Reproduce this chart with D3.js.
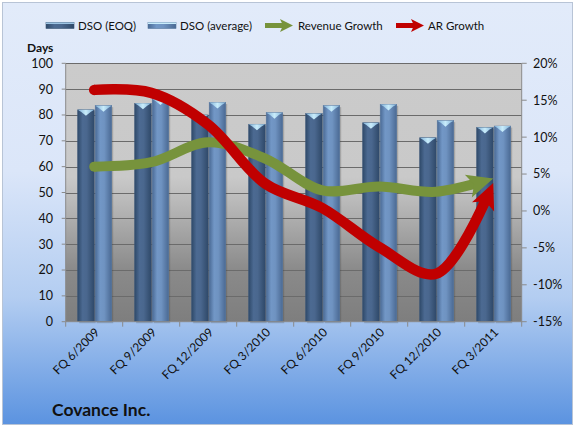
<!DOCTYPE html>
<html>
<head>
<meta charset="utf-8">
<script src="https://cdn.jsdelivr.net/npm/d3@7"></script>
<style>
  body { margin: 0; background: #fff; }
  text { font-family: Lato, "Open Sans", sans-serif; fill: #111; }
</style>
</head>
<body>
<svg id="chart" width="575" height="427"></svg>
<script>
// data
const categories = ["FQ 6/2009", "FQ 9/2009", "FQ 12/2009", "FQ 3/2010", "FQ 6/2010", "FQ 9/2010", "FQ 12/2010", "FQ 3/2011"];
const dsoEoq = [82, 84.5, 80, 76.4, 80.6, 77, 71.2, 75.2];
const dsoAvg = [83.6, 86.2, 84.8, 80.9, 83.6, 84.1, 77.8, 75.7];
const revenueGrowth = [6.0, 6.6, 9.3, 7.1, 2.8, 3.3, 2.6, 4.4];
const arGrowth = [16.4, 16.0, 11.7, 3.7, 0.4, -4.9, -8.5, 3.8];
const leftTicks = d3.range(0, 101, 10);
const rightTicks = d3.range(-15, 21, 5);

const width = 575, height = 427;
const plot = { left: 65.7, right: 521.7, top: 63.3, bottom: 321.7 };

const svg = d3.select('#chart');
const defs = svg.append('defs');

// backgrounds
const bg = defs.append('linearGradient').attr('id', 'bg').attr('x1', 0).attr('y1', 0).attr('x2', 0).attr('y2', 1);
[[0, '#e2ebfa'], [0.4, '#dbe6f9'], [0.7, '#b3cdf1'], [1, '#5b93e0']].forEach(s =>
    bg.append('stop').attr('offset', s[0]).attr('stop-color', s[1]));

const pg = defs.append('linearGradient').attr('id', 'pg').attr('x1', 0).attr('y1', 0).attr('x2', 0).attr('y2', 1);
[[0, '#cbcbcb'], [0.44, '#c9c9c9'], [0.52, '#bcbcbc'], [0.8, '#8a8a8a'], [1, '#7e7e7e']].forEach(s =>
    pg.append('stop').attr('offset', s[0]).attr('stop-color', s[1]));

function barGrad(id, stops) {
    const g = defs.append('linearGradient').attr('id', id).attr('x1', 0).attr('y1', 0).attr('x2', 1).attr('y2', 0);
    stops.forEach(s => g.append('stop').attr('offset', s[0]).attr('stop-color', s[1]));
}
barGrad('b1', [[0, '#2f4a6a'], [0.3, '#4c6a92'], [0.55, '#4a678e'], [1, '#2f4969']]);
barGrad('b2', [[0, '#4a6a95'], [0.3, '#7297c6'], [0.55, '#6f93c1'], [1, '#4a6993']]);
barGrad('cap', [[0, '#7fb0d8'], [0.5, '#c8ecfb'], [1, '#7fb0d8']]);

svg.append('rect')
    .attr('x', 2.5).attr('y', 2.5).attr('width', width - 5).attr('height', height - 5)
    .attr('fill', 'url(#bg)').attr('stroke', '#b8c4d6');

svg.append('rect')
    .attr('x', plot.left).attr('y', plot.top)
    .attr('width', plot.right - plot.left).attr('height', plot.bottom - plot.top)
    .attr('fill', 'url(#pg)');

// scales
const x0 = d3.scaleBand().domain(categories).range([plot.left, plot.right]).padding(0);
const x1 = d3.scaleBand().domain(['eoq', 'avg']).range([12, 46]).paddingInner(0.06);
const yL = d3.scaleLinear().domain([0, 100]).range([plot.bottom, plot.top]);
const yR = d3.scaleLinear().domain([-15, 20]).range([plot.bottom, plot.top]);

// gridlines
svg.append('g').selectAll('line')
    .data(leftTicks.filter(d => d > 0))
    .join('line')
    .attr('x1', plot.left).attr('x2', plot.right)
    .attr('y1', d => Math.round(yL(d)) + 0.5).attr('y2', d => Math.round(yL(d)) + 0.5)
    .attr('stroke', '#6b6b6b').attr('stroke-width', 1);

// bars
const table = categories.map((c, i) => ({ cat: c, values: [{ k: 'eoq', v: dsoEoq[i] }, { k: 'avg', v: dsoAvg[i] }] }));
const groups = svg.append('g').selectAll('g')
    .data(table)
    .join('g')
    .attr('transform', d => 'translate(' + x0(d.cat) + ',0)');

const bars = groups.selectAll('g')
    .data(d => d.values)
    .join('g');

bars.append('rect')
    .attr('x', d => x1(d.k) + 1.5)
    .attr('y', d => yL(d.v) + 1.5)
    .attr('width', x1.bandwidth())
    .attr('height', d => yL(0) - yL(d.v))
    .attr('fill', 'rgba(60,60,60,0.25)');

bars.append('rect')
    .attr('x', d => x1(d.k))
    .attr('y', d => yL(d.v))
    .attr('width', x1.bandwidth())
    .attr('height', d => yL(0) - yL(d.v))
    .attr('fill', d => d.k === 'eoq' ? 'url(#b1)' : 'url(#b2)')
    .attr('stroke', d => d.k === 'eoq' ? '#3a5576' : '#56779f')
    .attr('stroke-width', 0.6);

bars.append('path')
    .attr('d', d => {
        const xa = x1(d.k), w = x1.bandwidth(), t = yL(d.v);
        return 'M' + xa + ',' + t + 'h' + w + 'l-' + (w * 0.22) + ',2.2' +
            'L' + (xa + w / 2) + ',' + (t + 6) + 'L' + (xa + w * 0.22) + ',' + (t + 2.2) + 'Z';
    })
    .attr('fill', 'url(#cap)');

// axes
svg.append('line')
    .attr('x1', plot.left).attr('x2', plot.left).attr('y1', plot.top).attr('y2', plot.bottom)
    .attr('stroke', '#8a8a8a');
svg.append('line')
    .attr('x1', plot.right).attr('x2', plot.right).attr('y1', plot.top).attr('y2', plot.bottom)
    .attr('stroke', '#8a8a8a');
svg.append('line')
    .attr('x1', plot.left).attr('x2', plot.right).attr('y1', plot.bottom).attr('y2', plot.bottom)
    .attr('stroke', '#8a8a8a');

svg.append('g').selectAll('line')
    .data(categories.map(c => x0(c)).concat([plot.right]))
    .join('line')
    .attr('x1', d => d).attr('x2', d => d)
    .attr('y1', plot.bottom).attr('y2', plot.bottom + 5)
    .attr('stroke', '#8a8a8a');

svg.append('g').selectAll('line')
    .data(leftTicks)
    .join('line')
    .attr('x1', plot.left - 4).attr('x2', plot.left)
    .attr('y1', d => yL(d)).attr('y2', d => yL(d))
    .attr('stroke', '#8a8a8a');

svg.append('g').selectAll('line')
    .data(rightTicks)
    .join('line')
    .attr('x1', plot.right).attr('x2', plot.right + 5)
    .attr('y1', d => yR(d)).attr('y2', d => yR(d))
    .attr('stroke', '#8a8a8a');

svg.append('g').selectAll('text')
    .data(leftTicks)
    .join('text')
    .attr('x', 53).attr('y', d => yL(d))
    .attr('dy', '0.35em')
    .attr('text-anchor', 'end')
    .style('font-size', '12.5px')
    .text(d => d);

svg.append('g').selectAll('text')
    .data(rightTicks)
    .join('text')
    .attr('x', 533).attr('y', d => yR(d))
    .attr('dy', '0.35em')
    .style('font-size', '12.5px')
    .text(d => d + '%');

svg.append('g').selectAll('text')
    .data(categories)
    .join('text')
    .attr('transform', d => 'translate(' + (x0(d) + x0.bandwidth() / 2 + 6) + ',' + 333 + ') rotate(-45)')
    .attr('text-anchor', 'end')
    .style('font-size', '12px')
    .text(d => d);

svg.append('text')
    .attr('x', 27).attr('y', 52)
    .style('font-size', '12px').style('font-weight', 'bold')
    .text('Days');

svg.append('text')
    .attr('x', 52).attr('y', 416)
    .style('font-size', '17.5px').style('font-weight', 'bold')
    .text('Covance Inc.');

// growth lines with arrow heads
const line = d3.line()
    .x((d, i) => x0(categories[i]) + x0.bandwidth() / 2)
    .y(d => yR(d))
    .curve(d3.curveCatmullRom.alpha(0.5));

function arrowLine(values, color, lw, headLen, headHalf, notch) {
    const g = svg.append('g');
    const p = g.append('path')
        .attr('d', line(values))
        .attr('fill', 'none')
        .attr('stroke', color)
        .attr('stroke-width', lw);
    const node = p.node();
    const L = node.getTotalLength();
    const a = node.getPointAtLength(L - 4), b = node.getPointAtLength(L);
    const ang = Math.atan2(b.y - a.y, b.x - a.x) * 180 / Math.PI;
    p.attr('stroke-dasharray', (L - headLen + notch + 2) + ' ' + L)
        .attr('stroke-linecap', 'butt');
    // round start cap
    const s = node.getPointAtLength(0);
    g.append('circle').attr('cx', s.x).attr('cy', s.y).attr('r', lw / 2).attr('fill', color);
    g.append('path')
        .attr('d', 'M0,0L' + (-headLen) + ',' + (-headHalf) + 'L' + (-headLen + notch) + ',0L' + (-headLen) + ',' + headHalf + 'Z')
        .attr('transform', 'translate(' + b.x + ',' + b.y + ') rotate(' + ang + ')')
        .attr('fill', color);
}

arrowLine(revenueGrowth, '#77933c', 10, 26, 12, 6);
arrowLine(arGrowth, '#c00000', 10.5, 26, 12, 6);

// legend
const legend = svg.append('g');
const ly = 25.5;
legend.append('rect').attr('x', 46).attr('y', ly - 3).attr('width', 28).attr('height', 6)
    .attr('fill', 'url(#b1)').attr('stroke', '#3a5576').attr('stroke-width', 0.6);
legend.append('rect').attr('x', 46).attr('y', ly - 3).attr('width', 28).attr('height', 1.5).attr('fill', '#9cc4e4');
legend.append('text').attr('x', 78).attr('y', ly).attr('dy', '0.35em').style('font-size', '11.5px').text('DSO (EOQ)');

legend.append('rect').attr('x', 148).attr('y', ly - 3).attr('width', 28).attr('height', 6)
    .attr('fill', 'url(#b2)').attr('stroke', '#56779f').attr('stroke-width', 0.6);
legend.append('rect').attr('x', 148).attr('y', ly - 3).attr('width', 28).attr('height', 1.5).attr('fill', '#c8ecfb');
legend.append('text').attr('x', 180).attr('y', ly).attr('dy', '0.35em').style('font-size', '11.5px').text('DSO (average)');

function legendArrow(x, color) {
    legend.append('line').attr('x1', x).attr('x2', x + 18).attr('y1', ly).attr('y2', ly)
        .attr('stroke', color).attr('stroke-width', 5);
    legend.append('path')
        .attr('d', 'M' + (x + 28) + ',' + ly + 'l-13,-6.5l3,6.5l-3,6.5Z')
        .attr('fill', color);
}
legendArrow(265, '#77933c');
legend.append('text').attr('x', 298).attr('y', ly).attr('dy', '0.35em').style('font-size', '11.5px').text('Revenue Growth');
legendArrow(396, '#c00000');
legend.append('text').attr('x', 428).attr('y', ly).attr('dy', '0.35em').style('font-size', '11.5px').text('AR Growth');
</script>
</body>
</html>
